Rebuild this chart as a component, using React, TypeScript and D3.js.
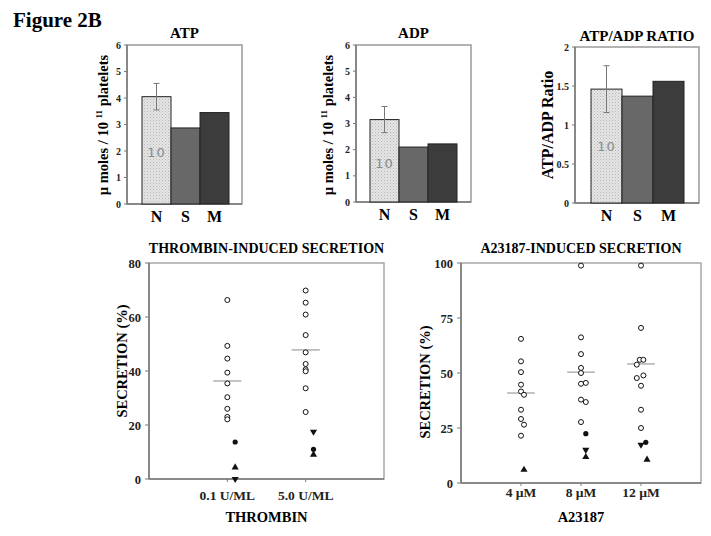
import React from "react";
import * as d3 from "d3";

// ---------- DATA ----------
const barCategories = ["N", "S", "M"];
const atpValues = [4.05, 2.87, 3.45];
const atpErrorN = 0.5;
const adpValues = [3.15, 2.1, 2.22];
const adpErrorN = 0.5;
const ratioValues = [1.46, 1.37, 1.56];
const ratioErrorN = 0.3;
const nLabel = "10";

const atpTicks = [0, 1, 2, 3, 4, 5, 6];
const ratioTicks = [0, 0.5, 1, 1.5, 2];

const thrombinCategories = ["0.1 U/ML", "5.0 U/ML"];
const thrombinTicks = [0, 20, 40, 60, 80];
const thrombinOpen01 = [66.3, 49.3, 44.6, 39.4, 35.4, 30.3, 26, 23, 22.1];
const thrombinOpen50 = [69.8, 65.3, 60.9, 53.3, 46.9, 42.6, 40.6, 39.9, 33.6, 24.8];
// [category index, value, marker, jitter]
const thrombinFilled: [number, number, string, number][] = [
  [1, 13.7, "circle", 0.1],
  [1, 4.3, "up", 0.1],
  [1, 0, "down", 0.1],
  [2, 17.5, "down", 0.1],
  [2, 11, "circle", 0.1],
  [2, 9, "up", 0.1],
];
const thrombinMeans = [36.3, 47.8];

const a23Categories = ["4 µM", "8 µM", "12 µM"];
const a23Ticks = [0, 25, 50, 75, 100];
// [category index, value, jitter]
const a23Open: [number, number, number][] = [
  [1, 65.5, 0], [1, 55.3, 0], [1, 50.4, 0], [1, 44.7, 0], [1, 41.6, 0],
  [1, 40.1, 0.05], [1, 33.3, 0], [1, 29.1, 0], [1, 26.5, 0.05], [1, 21.5, 0],
  [2, 98.8, 0], [2, 66.2, 0], [2, 58.6, 0], [2, 52.3, 0], [2, 50, 0],
  [2, 45.1, 0], [2, 45.5, 0.08], [2, 37.9, 0], [2, 36.8, 0.08], [2, 27.7, 0],
  [3, 98.8, 0], [3, 70.5, 0], [3, 56, -0.02], [3, 56, 0.04], [3, 53.8, -0.07],
  [3, 47.7, -0.07], [3, 48.9, 0.04], [3, 44.2, 0], [3, 33.3, 0], [3, 25, 0],
];
const a23Filled: [number, number, string, number][] = [
  [1, 6.0, "up", 0.05],
  [2, 22.4, "circle", 0.08],
  [2, 15.1, "down", 0.08],
  [2, 11.8, "up", 0.08],
  [3, 18.5, "circle", 0.08],
  [3, 17.4, "down", 0.0],
  [3, 10.6, "up", 0.1],
];
const a23Means = [40.9, 50.4, 54.1];

// ---------- STYLE ----------
const SERIF = "'Liberation Serif', 'Times New Roman', serif";
const barFills = ["url(#dotPattern)", "#686868", "#3c3c3c"];
const frameColor = "#9a9a9a";
const axisColor = "#7a7a7a";

type BarPanelProps = {
  title: string;
  values: number[];
  err: number;
  ticks: number[];
  tickFmt: (v: number) => string;
  frame: { l: number; r: number; t: number; b: number };
  bars: [number, number];
  yLabel: React.ReactNode;
  yLabelX: number;
  yLabelSize: number;
  titleY: number;
  nLabelValue: number;
};

function BarPanel(p: BarPanelProps) {
  const { frame } = p;
  const y = d3.scaleLinear().domain([p.ticks[0], p.ticks[p.ticks.length - 1]]).range([frame.b, frame.t]);
  const x = d3.scaleBand().domain(barCategories).range(p.bars).paddingInner(0).paddingOuter(0);
  const cx = (frame.l + frame.r) / 2;
  const cy = 125;
  const nx = x("N")! + x.bandwidth() / 2;
  return (
    <g>
      <text x={cx} y={p.titleY} textAnchor="middle" fontFamily={SERIF} fontWeight="bold" fontSize={15}>
        {p.title}
      </text>
      <rect x={frame.l} y={frame.t} width={frame.r - frame.l} height={frame.b - frame.t} fill="none" stroke={frameColor} strokeWidth={1.5} />
      <line x1={frame.l} x2={frame.l} y1={frame.t} y2={frame.b} stroke={axisColor} strokeWidth={1.5} />
      <line x1={frame.l} x2={frame.r} y1={frame.b} y2={frame.b} stroke={axisColor} strokeWidth={1.5} />
      {p.ticks.map((t) => (
        <g key={t}>
          <line x1={frame.l - 3} x2={frame.l} y1={y(t)} y2={y(t)} stroke={axisColor} strokeWidth={1} />
          <text x={frame.l - 6} y={y(t) + 3.5} textAnchor="end" fontFamily={SERIF} fontWeight="bold" fontSize={10} fill="#222">
            {p.tickFmt(t)}
          </text>
        </g>
      ))}
      {p.values.map((v, i) => (
        <rect key={i} x={x(barCategories[i])} y={y(v)} width={x.bandwidth()} height={frame.b - y(v)} fill={barFills[i]} stroke="#222" strokeWidth={1} />
      ))}
      <line x1={nx} x2={nx} y1={y(p.values[0] + p.err)} y2={y(p.values[0] - p.err)} stroke="#777" strokeWidth={1} />
      <line x1={nx - 3} x2={nx + 3} y1={y(p.values[0] + p.err)} y2={y(p.values[0] + p.err)} stroke="#777" strokeWidth={1} />
      <line x1={nx - 3} x2={nx + 3} y1={y(p.values[0] - p.err)} y2={y(p.values[0] - p.err)} stroke="#777" strokeWidth={1} />
      <text x={nx} y={y(p.nLabelValue) + 5} textAnchor="middle" fontFamily="'DejaVu Sans', sans-serif" fontSize={13} fill="#8a8a8a" letterSpacing={1}>
        {nLabel}
      </text>
      {barCategories.map((c) => (
        <text key={c} x={x(c)! + x.bandwidth() / 2} y={frame.b + 18} textAnchor="middle" fontFamily={SERIF} fontWeight="bold" fontSize={16}>
          {c}
        </text>
      ))}
      <text transform={`translate(${p.yLabelX},${cy}) rotate(-90)`} textAnchor="middle" fontFamily={SERIF} fontWeight="bold" fontSize={p.yLabelSize}>
        {p.yLabel}
      </text>
    </g>
  );
}

function Marker({ x, y, kind }: { x: number; y: number; kind: string }) {
  if (kind === "open") return <circle cx={x} cy={y} r={2.5} fill="white" stroke="#111" strokeWidth={1} />;
  if (kind === "circle") return <circle cx={x} cy={y} r={2.6} fill="#111" />;
  const sym = d3.symbol().type(d3.symbolTriangle).size(22)();
  return <path d={sym!} transform={`translate(${x},${y}) rotate(${kind === "down" ? 180 : 0})`} fill="#111" />;
}

type ScatterProps = {
  title: string;
  frame: { l: number; r: number; t: number; b: number };
  ticks: number[];
  cats: string[];
  open: [number, number, number][];
  filled: [number, number, string, number][];
  means: number[];
  meanHalf: number;
  xTitle: string;
  yLabelX: number;
  yLabelY: number;
  catDy: number;
  xTitleY: number;
};

function Scatter(p: ScatterProps) {
  const { frame } = p;
  const y = d3.scaleLinear().domain([p.ticks[0], p.ticks[p.ticks.length - 1]]).range([frame.b, frame.t]);
  const x = d3.scaleLinear().domain([0, p.cats.length + 1]).range([frame.l, frame.r]);
  const cx = (frame.l + frame.r) / 2;
  return (
    <g>
      <text x={cx} y={frame.t - 10} textAnchor="middle" fontFamily={SERIF} fontWeight="bold" fontSize={14}>
        {p.title}
      </text>
      <rect x={frame.l} y={frame.t} width={frame.r - frame.l} height={frame.b - frame.t} fill="none" stroke={frameColor} strokeWidth={1.3} />
      <line x1={frame.l} x2={frame.l} y1={frame.t} y2={frame.b} stroke={axisColor} strokeWidth={1.6} />
      <line x1={frame.l} x2={frame.r} y1={frame.b} y2={frame.b} stroke={axisColor} strokeWidth={1.6} />
      {p.ticks.map((t) => (
        <g key={t}>
          <line x1={frame.l - 4} x2={frame.l} y1={y(t)} y2={y(t)} stroke={axisColor} strokeWidth={1} />
          <text x={frame.l - 8} y={y(t) + 4.5} textAnchor="end" fontFamily={SERIF} fontWeight="bold" fontSize={12.5} fill="#222">
            {t}
          </text>
        </g>
      ))}
      {p.cats.map((c, i) => (
        <g key={c}>
          <line x1={x(i + 1)} x2={x(i + 1)} y1={frame.b} y2={frame.b + 3} stroke={axisColor} strokeWidth={1} />
          <text x={x(i + 1)} y={frame.b + p.catDy} textAnchor="middle" fontFamily={SERIF} fontWeight="bold" fontSize={13.5} fill="#222">
            {c}
          </text>
        </g>
      ))}
      <text x={x((p.cats.length + 1) / 2)} y={p.xTitleY} textAnchor="middle" fontFamily={SERIF} fontWeight="bold" fontSize={14.5}>
        {p.xTitle}
      </text>
      <text transform={`translate(${p.yLabelX},${p.yLabelY}) rotate(-90)`} textAnchor="middle" fontFamily={SERIF} fontWeight="bold" fontSize={14.5}>
        SECRETION (%)
      </text>
      {p.means.map((m, i) => (
        <line key={i} x1={x(i + 1 - p.meanHalf)} x2={x(i + 1 + p.meanHalf)} y1={y(m)} y2={y(m)} stroke="#888" strokeWidth={1} />
      ))}
      {p.open.map(([c, v, j], i) => (
        <Marker key={"o" + i} x={x(c + j)} y={y(v)} kind="open" />
      ))}
      {p.filled.map(([c, v, k, j], i) => (
        <Marker key={"f" + i} x={x(c + j)} y={y(v)} kind={k} />
      ))}
    </g>
  );
}

export default function App() {
  const thrombinOpen: [number, number, number][] = [
    ...thrombinOpen01.map((v) => [1, v, 0] as [number, number, number]),
    ...thrombinOpen50.map((v) => [2, v, 0] as [number, number, number]),
  ];
  const umolLabel = (
    <>
      <tspan>µ moles / 10 </tspan>
      <tspan fontSize={9} dy={-6}>11</tspan>
      <tspan dy={6}> platelets</tspan>
    </>
  );
  return (
    <svg width={711} height={536} style={{ position: "absolute", left: 0, top: 0, background: "white" }}>
      <defs>
        <pattern id="dotPattern" width={3} height={3} patternUnits="userSpaceOnUse">
          <rect width={3} height={3} fill="#e4e4e4" />
          <rect x={0} y={0} width={1} height={1} fill="#b8b8b8" />
          <rect x={1.5} y={1.5} width={1} height={1} fill="#c8c8c8" />
        </pattern>
      </defs>
      <rect width={711} height={536} fill="white" />
      <text x={13} y={27} fontFamily={SERIF} fontWeight="bold" fontSize={21}>
        Figure 2B
      </text>
      <BarPanel
        title="ATP"
        values={atpValues}
        err={atpErrorN}
        ticks={atpTicks}
        tickFmt={(v) => String(v)}
        frame={{ l: 127, r: 242, t: 45, b: 204 }}
        bars={[142, 229]}
        yLabel={umolLabel}
        yLabelX={108}
        yLabelSize={14.5}
        titleY={38}
        nLabelValue={1.96}
      />
      <BarPanel
        title="ADP"
        values={adpValues}
        err={adpErrorN}
        ticks={atpTicks}
        tickFmt={(v) => String(v)}
        frame={{ l: 356, r: 471, t: 45, b: 202 }}
        bars={[370, 457]}
        yLabel={umolLabel}
        yLabelX={333}
        yLabelSize={14.5}
        titleY={38}
        nLabelValue={1.5}
      />
      <BarPanel
        title="ATP/ADP RATIO"
        values={ratioValues}
        err={ratioErrorN}
        ticks={ratioTicks}
        tickFmt={(v) => String(v)}
        frame={{ l: 575, r: 699, t: 47, b: 203 }}
        bars={[591, 684]}
        yLabel="ATP/ADP Ratio"
        yLabelX={553}
        yLabelSize={16}
        titleY={41}
        nLabelValue={0.73}
      />
      <Scatter
        title="THROMBIN-INDUCED SECRETION"
        frame={{ l: 149, r: 384, t: 263, b: 479 }}
        ticks={thrombinTicks}
        cats={thrombinCategories}
        open={thrombinOpen}
        filled={thrombinFilled}
        means={thrombinMeans}
        meanHalf={0.18}
        xTitle="THROMBIN"
        yLabelX={127}
        yLabelY={361}
        catDy={21}
        xTitleY={522}
      />
      <Scatter
        title="A23187-INDUCED SECRETION"
        frame={{ l: 461, r: 701, t: 263, b: 483 }}
        ticks={a23Ticks}
        cats={a23Categories}
        open={a23Open}
        filled={a23Filled}
        means={a23Means}
        meanHalf={0.23}
        xTitle="A23187"
        yLabelX={430}
        yLabelY={382}
        catDy={14}
        xTitleY={522}
      />
    </svg>
  );
}
